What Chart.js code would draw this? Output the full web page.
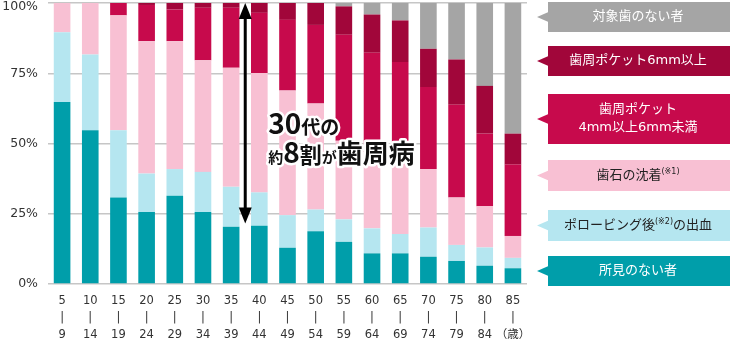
<!DOCTYPE html>
<html lang="ja">
<head>
<meta charset="utf-8">
<script src="https://cdn.jsdelivr.net/npm/chart.js@4/dist/chart.umd.min.js"></script>
<style>
  html, body { margin: 0; padding: 0; background: #fff; }
  #wrap { width: 730px; height: 341px; }
</style>
</head>
<body>
<div id="wrap"><canvas id="chart" width="730" height="341"></canvas></div>
<script>
// Age bands (lower bound / upper bound) shown as three-line tick labels
const ageFrom = ['5','10','15','20','25','30','35','40','45','50','55','60','65','70','75','80','85'];
const ageTo   = ['9','14','19','24','29','34','39','44','49','54','59','64','69','74','79','84','（歳）'];

// Share of people per finding, % of each age band (bottom to top)
const noFindings   = [64.8, 54.7, 30.8, 25.6, 31.4, 25.6, 20.4, 20.7, 12.9, 18.8, 15.0, 10.9, 10.9,  9.7,  8.2,  6.5,  5.6];
const bleeding     = [24.8, 27.0, 23.9, 13.7,  9.5, 14.3, 14.2, 11.9, 11.6,  7.7,  8.0,  8.9,  6.9, 10.4,  5.7,  6.5,  3.7];
const calculus     = [10.4, 18.3, 40.9, 47.1, 45.5, 39.7, 42.4, 42.5, 44.4, 37.7, 28.0, 27.2, 27.2, 20.8, 16.9, 14.7,  7.8];
const pocket4to6   = [ 0.0,  0.0,  4.4, 12.9, 11.3, 18.7, 21.3, 21.4, 25.1, 28.0, 37.7, 35.3, 34.0, 29.2, 33.0, 25.8, 25.4];
const pocket6plus  = [ 0.0,  0.0,  0.0,  0.7,  2.3,  1.7,  1.7,  3.5,  6.0,  7.8, 10.1, 13.6, 14.8, 13.6, 16.1, 17.0, 11.0];
const noTeeth      = [ 0.0,  0.0,  0.0,  0.0,  0.0,  0.0,  0.0,  0.0,  0.0,  0.0,  1.2,  4.1,  6.2, 16.3, 20.1, 29.5, 46.5];

const seriesNames = [
  '所見のない者',
  'ポロービング後(※2)の出血',
  '歯石の沈着(※1)',
  '歯周ポケット\n4mm以上6mm未満',
  '歯周ポケット6mm以上',
  '対象歯のない者'
];
const seriesValues = [noFindings, bleeding, calculus, pocket4to6, pocket6plus, noTeeth];
const yTickValues = [0, 25, 50, 75, 100];

// Styling
const colors     = ['#009EAA', '#B5E6F0', '#F8C0D3', '#C70A4C', '#A1063A', '#A5A5A5'];
const textColors = ['#ffffff', '#222222', '#222222', '#ffffff', '#ffffff', '#ffffff'];
const LATIN = "'DejaVu Sans', 'Noto Sans CJK JP', sans-serif";
const JP = "'Noto Sans CJK JP', sans-serif";

// Callout boxes on the right, listed top to bottom (series index, top, height)
const calloutLayout = [
  { s: 5, top: 2,   h: 30 },
  { s: 4, top: 46,  h: 30 },
  { s: 3, top: 94,  h: 50 },
  { s: 2, top: 160, h: 31 },
  { s: 1, top: 210, h: 31 },
  { s: 0, top: 256, h: 30 }
];

// Draws one line of text, rendering "(※n)" parts as small raised notes
function drawRichLine(ctx, text, cx, cy, size, color) {
  const parts = text.split(/(\(※\d\))/).filter(p => p.length);
  const big = size + 'px ' + LATIN;
  const small = Math.round(size * 0.62) + 'px ' + LATIN;
  let total = 0;
  const widths = parts.map(p => {
    ctx.font = /^\(※/.test(p) ? small : big;
    const w = ctx.measureText(p).width;
    total += w;
    return w;
  });
  let x = cx - total / 2;
  ctx.fillStyle = color;
  ctx.textAlign = 'left';
  ctx.textBaseline = 'middle';
  parts.forEach((p, i) => {
    const note = /^\(※/.test(p);
    ctx.font = note ? small : big;
    ctx.fillText(p, x, note ? cy - size * 0.28 : cy);
    x += widths[i];
  });
}

// Percentage labels on the value axis (the top one kept inside the canvas)
const yLabelPlugin = {
  id: 'yLabels',
  afterDraw(chart) {
    const ctx = chart.ctx, ys = chart.scales.y;
    ctx.save();
    ctx.font = '12.5px ' + LATIN;
    ctx.fillStyle = '#333';
    ctx.textAlign = 'right';
    ctx.textBaseline = 'middle';
    yTickValues.forEach(v => {
      const y = Math.max(ys.getPixelForValue(v), 6.5);
      ctx.fillText(v + '%', ys.right - 10, y);
    });
    ctx.restore();
  }
};

const calloutPlugin = {
  id: 'callouts',
  afterDraw(chart) {
    const ctx = chart.ctx;
    const left = chart.chartArea.right + 21;
    const right = chart.width;
    ctx.save();
    calloutLayout.forEach(b => {
      const c = colors[b.s];
      const midY = b.top + b.h / 2;
      ctx.fillStyle = c;
      ctx.fillRect(left, b.top, right - left, b.h);
      ctx.beginPath();
      ctx.moveTo(left + 0.5, midY - 5);
      ctx.lineTo(left - 11, midY);
      ctx.lineTo(left + 0.5, midY + 5);
      ctx.closePath();
      ctx.fill();
      const lines = seriesNames[b.s].split('\n');
      const lh = 18;
      const cx = (left + right) / 2 - 1;
      lines.forEach((ln, i) => {
        const y = midY + (i - (lines.length - 1) / 2) * lh;
        drawRichLine(ctx, ln, cx, y, 13, textColors[b.s]);
      });
    });
    ctx.restore();
  }
};

// "30代の 約8割が歯周病" note with a double-headed arrow over the 35–44 bars
const notePlugin = {
  id: 'note',
  afterDatasetsDraw(chart) {
    const ctx = chart.ctx;
    const xs = chart.scales.x, ys = chart.scales.y;
    const ax = (xs.getPixelForValue(6) + xs.getPixelForValue(7)) / 2;
    const yTop = ys.getPixelForValue(100);
    const yBot = ys.getPixelForValue(21.5);
    ctx.save();
    ctx.fillStyle = '#000';
    ctx.fillRect(ax - 1.5, yTop + 12, 3, yBot - yTop - 24);
    ctx.beginPath();
    ctx.moveTo(ax, yTop);
    ctx.lineTo(ax - 6.5, yTop + 16);
    ctx.lineTo(ax + 6.5, yTop + 16);
    ctx.closePath();
    ctx.fill();
    ctx.beginPath();
    ctx.moveTo(ax, yBot);
    ctx.lineTo(ax - 6.5, yBot - 16);
    ctx.lineTo(ax + 6.5, yBot - 16);
    ctx.closePath();
    ctx.fill();

    const x0 = xs.getPixelForValue(7) + 9;
    const rows = [
      { y: ys.getPixelForValue(53.4), runs: [['30', 28], ['代の', 19]] },
      { y: ys.getPixelForValue(43.0), runs: [['約', 15], ['8', 28], ['割', 22], ['が', 15], ['歯周病', 26]] }
    ];
    ctx.textAlign = 'left';
    ctx.textBaseline = 'alphabetic';
    ctx.lineJoin = 'round';
    rows.forEach(r => {
      [true, false].forEach(stroke => {
        let x = x0;
        r.runs.forEach(([t, sz]) => {
          ctx.font = 'bold ' + sz + 'px ' + JP;
          if (stroke) {
            ctx.strokeStyle = '#fff';
            ctx.lineWidth = 5;
            ctx.strokeText(t, x, r.y);
          } else {
            ctx.fillStyle = '#111';
            ctx.fillText(t, x, r.y);
          }
          x += ctx.measureText(t).width;
        });
      });
    });
    ctx.restore();
  }
};

new Chart(document.getElementById('chart'), {
  type: 'bar',
  data: {
    labels: ageFrom.map((a, i) => [a, '|', ageTo[i]]),
    datasets: seriesValues.map((vals, i) => ({
      label: seriesNames[i].replace('\n', ''),
      data: vals,
      backgroundColor: colors[i],
      borderWidth: 0,
      barPercentage: 0.59,
      categoryPercentage: 1.0
    }))
  },
  options: {
    responsive: false,
    animation: false,
    devicePixelRatio: 1,
    layout: { padding: { top: 3, right: 203, left: 0, bottom: 0 } },
    plugins: { legend: { display: false }, tooltip: { enabled: false } },
    scales: {
      x: {
        stacked: true,
        grid: { display: false, drawTicks: false },
        border: { display: false },
        ticks: {
          color: '#333',
          font: { family: LATIN, size: 11.5, lineHeight: 1.45 },
          padding: 9,
          maxRotation: 0,
          autoSkip: false
        },
        afterFit(s) { s.height = 57; s.paddingLeft = 0; s.paddingRight = 0; }
      },
      y: {
        stacked: true,
        min: 0,
        max: 100,
        afterBuildTicks(s) { s.ticks = yTickValues.map(v => ({ value: v })); },
        grid: { color: '#c6c6c6', lineWidth: 1.5, drawTicks: false },
        border: { display: false },
        ticks: { display: false },
        afterFit(s) { s.width = 48; s.paddingTop = 0; s.paddingBottom = 0; }
      }
    }
  },
  plugins: [notePlugin, calloutPlugin, yLabelPlugin]
});
</script>
</body>
</html>
